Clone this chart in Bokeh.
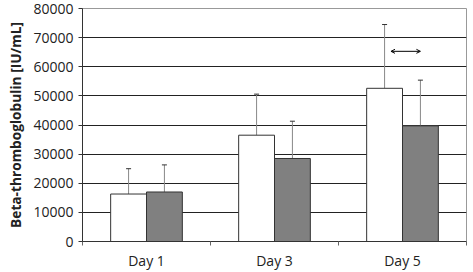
import numpy as np
from bokeh.plotting import figure
from bokeh.models import (ColumnDataSource, FixedTicker, SingleIntervalTicker, Whisker,
                          TeeHead, Arrow, OpenHead, Range1d)
from bokeh.embed import file_html
from bokeh.resources import INLINE

days = ["Day 1", "Day 3", "Day 5"]
white_vals = [16300, 36500, 52600]
white_sd = [8700, 14100, 21900]
gray_vals = [17000, 28500, 39700]
gray_sd = [9300, 12800, 15700]
arrow_x = [2.41, 2.64]
arrow_y = 65300

xc = np.arange(len(days)) + 0.5
off = 0.14
bw = 0.28

p = figure(width=473, height=272, output_backend="svg", toolbar_location=None,
           x_range=Range1d(0, len(days)), y_range=Range1d(0, 80000))
p.min_border_left = 82
p.min_border_right = 7
p.min_border_top = 8
p.min_border_bottom = 27
p.background_fill_color = "white"
p.border_fill_color = "white"
p.outline_line_color = "#999999"

ws = ColumnDataSource(dict(x=xc - off, top=white_vals, upper=np.array(white_vals) + np.array(white_sd),
                           lower=white_vals))
gs = ColumnDataSource(dict(x=xc + off, top=gray_vals, upper=np.array(gray_vals) + np.array(gray_sd),
                           lower=gray_vals))

for src in (ws, gs):
    w = Whisker(source=src, base="x", upper="upper", lower="lower", dimension="height",
                line_color="#888888", line_width=1,
                upper_head=TeeHead(size=5, line_color="#333333", line_width=1), lower_head=None,
                level="underlay")
    p.add_layout(w)

p.vbar(x="x", top="top", width=bw, source=ws, fill_color="white", line_color="#333333", line_width=1)
p.vbar(x="x", top="top", width=bw, source=gs, fill_color="#808080", line_color="#333333", line_width=1)

p.add_layout(Arrow(x_start=arrow_x[0], x_end=arrow_x[1], y_start=arrow_y, y_end=arrow_y,
                   line_color="black", line_width=1,
                   start=OpenHead(size=4, line_color="black", line_width=1),
                   end=OpenHead(size=4, line_color="black", line_width=1)))

p.xgrid.grid_line_color = None
p.ygrid.grid_line_color = "#222222"
p.ygrid.grid_line_width = 1
p.yaxis.ticker = SingleIntervalTicker(interval=10000)
p.yaxis.axis_label = "Beta-thromboglobulin [IU/mL]"
p.yaxis.axis_label_text_font = "Open Sans"
p.yaxis.axis_label_text_font_style = "bold"
p.yaxis.axis_label_text_font_size = "13.7px"
p.yaxis.axis_label_text_color = "#222222"
p.yaxis.axis_label_standoff = 5
p.yaxis.major_label_text_font = "Open Sans"
p.yaxis.major_label_text_font_size = "14px"
p.yaxis.major_label_text_color = "#222222"
p.yaxis.major_label_standoff = 5
p.yaxis.major_tick_out = 4
p.yaxis.major_tick_in = 0
p.yaxis.minor_tick_line_color = None
p.yaxis.axis_line_color = "#333333"
p.yaxis.major_tick_line_color = "#333333"

p.xaxis.ticker = FixedTicker(ticks=list(xc), minor_ticks=list(range(len(days) + 1)))
p.xaxis.major_label_overrides = {float(x): d for x, d in zip(xc, days)}
p.xaxis.major_tick_out = 0
p.xaxis.major_tick_in = 0
p.xaxis.minor_tick_out = 4
p.xaxis.minor_tick_in = 0
p.xaxis.minor_tick_line_color = "#666666"
p.xaxis.axis_line_color = "#333333"
p.xaxis.major_label_text_font = "Open Sans"
p.xaxis.major_label_text_font_size = "14px"
p.xaxis.major_label_text_color = "#222222"
p.xaxis.major_label_standoff = 5

open("out.html", "w").write(file_html(p, INLINE))
